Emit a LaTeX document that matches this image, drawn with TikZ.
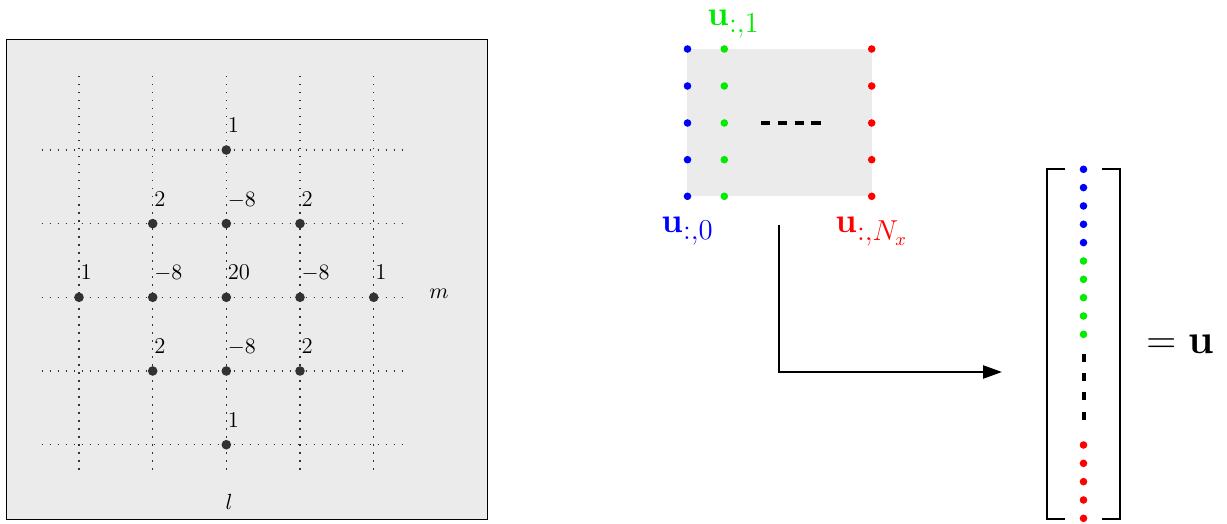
\documentclass[tikz,border=0pt]{standalone}
\usetikzlibrary{arrows.meta}
\definecolor{panelgray}{RGB}{235,235,235}
\definecolor{dotgray}{RGB}{50,50,50}
\definecolor{ublue}{RGB}{0,0,255}
\definecolor{ugreen}{RGB}{0,235,0}
\definecolor{ured}{RGB}{255,0,0}
\begin{document}
\begin{tikzpicture}[x=0.5pt,y=-0.5pt,
  gdot/.style={circle,fill=dotgray,inner sep=0pt,minimum size=4.8pt},
  cdot/.style={circle,fill=#1,inner sep=0pt,minimum size=3.8pt},
  glab/.style={anchor=base west,inner sep=0pt,font=\fontsize{11.3}{13}\selectfont},
  gridline/.style={draw=dotgray,line width=0.75pt,dash pattern=on 0.75pt off 3.25pt},
  ulab/.style={anchor=base west,inner sep=0pt,font=\fontsize{19}{23}\selectfont},
  bracket/.style={draw=black,line width=0.8pt}]
\useasboundingbox (0,0) rectangle (1227,524);
% ---------- left panel ----------
\node[draw=black,line width=0.5pt,fill=panelgray,minimum width=240.5pt,minimum height=239.5pt,inner sep=0pt,anchor=north west] (panel) at (5.5,39.5) {};
\foreach \x [count=\i] in {79,152.7,226.3,300,373.7}{
  \coordinate (vt\i) at (\x,76);
  \coordinate (vb\i) at (\x,476);
  \draw[gridline] (vt\i) -- (vb\i);
}
\foreach \y [count=\j] in {150,223.6,297.3,371,444.7}{
  \coordinate (hl\j) at (41.5,\y);
  \coordinate (hr\j) at (405,\y);
  \draw[gridline] (hl\j) -- (hr\j);
}
% stencil points: name, x, y, label
\foreach \n/\x/\y/\t in {a/226.3/150/1,
  b/152.7/223.6/2, c/226.3/223.6/$-8$, d/300/223.6/2,
  e/79/297.3/1, f/152.7/297.3/$-8$, g/226.3/297.3/20, h/300/297.3/$-8$, i/373.7/297.3/1,
  j/152.7/371/2, k/226.3/371/$-8$, o/300/371/2,
  p/226.3/444.7/1}{
  \node[gdot] (s\n) at (\x,\y) {};
  \node[glab] (t\n) at ([xshift=0.6pt,yshift=8.7pt]s\n.center) {\t};
}
\node[inner sep=0pt,font=\fontsize{11.3}{13}\selectfont] (mlab) at (439,294) {$m$};
\node[inner sep=0pt,font=\fontsize{11.3}{13}\selectfont] (llab) at (229,502) {$l$};
% ---------- right: grid block ----------
\node[fill=panelgray,minimum width=92.5pt,minimum height=73.5pt,inner sep=0pt,anchor=north west] (block) at (687,49) {};
\foreach \y [count=\k] in {49,86,123,159.7,196.3}{
  \node[cdot=ublue] (b\k) at (687.5,\y) {};
  \node[cdot=ugreen] (g\k) at (724.3,\y) {};
  \node[cdot=ured] (r\k) at (871.7,\y) {};
}
\coordinate (hd1) at (761,123);
\coordinate (hd2) at (828,123);
\draw[line width=2pt,dash pattern=on 4.6pt off 3.8pt] (hd1) -- (hd2);
\node[ulab,text=ugreen] (u1) at (707,26) {$\mathbf{u}_{:,1}$};
\node[ulab,text=ublue] (u0) at (661,233) {$\mathbf{u}_{:,0}$};
\node[ulab,text=ured] (uN) at (835,233) {$\mathbf{u}_{:,N_x}$};
% ---------- arrow ----------
\coordinate (ar1) at (779,225);
\coordinate (ar2) at (779,372);
\coordinate (ar3) at (1002,372);
\draw[line width=1.2pt,-{Triangle[length=9.5pt,width=6.5pt]}] (ar1) -- (ar2) -- (ar3);
% ---------- vector ----------
\coordinate (lb1) at (1065,169);
\coordinate (lb2) at (1047,169);
\coordinate (lb3) at (1047,519);
\coordinate (lb4) at (1065,519);
\coordinate (rb1) at (1102,169);
\coordinate (rb2) at (1120,169);
\coordinate (rb3) at (1120,519);
\coordinate (rb4) at (1102,519);
\draw[bracket] (lb1) -- (lb2) -- (lb3) -- (lb4);
\draw[bracket] (rb1) -- (rb2) -- (rb3) -- (rb4);
\foreach \k in {0,...,4}{
  \node[cdot=ublue] (vb\k) at (1083.5,169.3+18.33*\k) {};
  \node[cdot=ugreen] (vg\k) at (1083.5,261+18.33*\k) {};
  \node[cdot=ured] (vr\k) at (1083.5,445+18.33*\k) {};
}
\coordinate (vd1) at (1083.5,354);
\coordinate (vd2) at (1083.5,420);
\draw[line width=2pt,dash pattern=on 4pt off 5.6pt] (vd1) -- (vd2);
\node[anchor=base west,inner sep=0pt,font=\huge] (eq) at (1146,353) {$=\mathbf{u}$};
\end{tikzpicture}
\end{document}
